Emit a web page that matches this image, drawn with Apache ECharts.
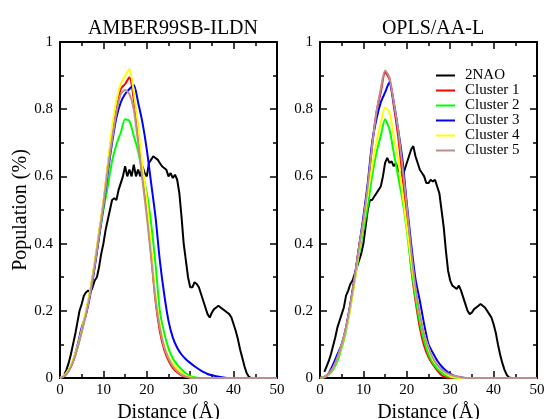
<!DOCTYPE html>
<html>
<head>
<meta charset="utf-8">
<script src="https://cdn.jsdelivr.net/npm/echarts@6/dist/echarts.min.js"></script>
<style>
  html, body { margin: 0; padding: 0; background: #fff; }
  #chart { width: 547px; height: 419px; }
</style>
</head>
<body>
<div id="chart"></div>
<script>
// distance grid (Å) for the cluster curves
const clusterDist = [0, 1, 2, 3, 4, 5, 6, 7, 8, 9, 10, 11, 12, 13, 14, 15, 16, 17, 18, 19,
  20, 21, 22, 23, 24, 25, 26, 27, 28, 29, 30, 31, 32, 33, 34, 35, 36, 37, 38, 39, 40, 45, 50];

// distance grid (Å) for the 2NAO reference curve
const refDist = [1, 1.5, 2, 2.5, 3, 3.5, 4, 4.5, 5, 5.5,
  6, 6.5, 7, 7.5, 8, 8.5, 9, 9.5, 10, 10.5,
  11, 11.5, 12, 12.5, 13, 13.5, 14, 14.5, 15, 15.5,
  16, 16.5, 17, 17.5, 18, 18.5, 19, 19.5, 20, 20.5,
  21, 21.5, 22, 22.5, 23, 23.5, 24, 24.5, 25, 25.5,
  26, 26.5, 27, 27.5, 28, 28.5, 29, 29.5, 30, 30.5,
  31, 31.5, 32, 32.5, 33, 33.5, 34, 34.5, 35, 35.5,
  36, 36.5, 37, 37.5, 38, 38.5, 39, 39.5, 40, 40.5,
  41, 41.5, 42, 42.5, 43, 43.5, 44, 50];

// ---- AMBER99SB-ILDN ----
const amberRef = [0.01, 0.025, 0.045, 0.07, 0.1, 0.13, 0.165, 0.2, 0.22, 0.245,
  0.255, 0.26, 0.255, 0.27, 0.29, 0.3, 0.33, 0.37, 0.4, 0.44,
  0.47, 0.5, 0.53, 0.535, 0.53, 0.56, 0.58, 0.6, 0.63, 0.6,
  0.62, 0.6, 0.635, 0.6, 0.62, 0.6, 0.63, 0.61, 0.6, 0.64,
  0.65, 0.66, 0.655, 0.65, 0.64, 0.63, 0.625, 0.62, 0.6, 0.61,
  0.595, 0.605, 0.59, 0.55, 0.48, 0.4, 0.35, 0.3, 0.27, 0.27,
  0.285, 0.28, 0.27, 0.25, 0.23, 0.21, 0.19, 0.18, 0.195, 0.205,
  0.21, 0.215, 0.21, 0.205, 0.2, 0.195, 0.19, 0.18, 0.16, 0.14,
  0.115, 0.085, 0.06, 0.035, 0.015, 0.004, 0, 0];
const amberC1 = [0, 0.006, 0.022, 0.05, 0.09, 0.14, 0.195, 0.26, 0.34, 0.43,
  0.52, 0.63, 0.73, 0.8, 0.86, 0.875, 0.895, 0.83, 0.73, 0.6,
  0.5, 0.37, 0.23, 0.14, 0.085, 0.052, 0.03, 0.017, 0.008, 0.003,
  0.001, 0, 0, 0, 0, 0, 0, 0, 0, 0, 0, 0, 0];
const amberC2 = [0, 0.006, 0.022, 0.05, 0.09, 0.14, 0.195, 0.26, 0.34, 0.42,
  0.5, 0.57, 0.645, 0.695, 0.73, 0.77, 0.765, 0.72, 0.675, 0.61,
  0.55, 0.46, 0.34, 0.2, 0.135, 0.088, 0.058, 0.04, 0.026, 0.014,
  0.006, 0.002, 0, 0, 0, 0, 0, 0, 0, 0, 0, 0, 0];
const amberC3 = [0, 0.006, 0.022, 0.05, 0.095, 0.15, 0.19, 0.25, 0.33, 0.42,
  0.51, 0.61, 0.7, 0.775, 0.82, 0.845, 0.86, 0.872, 0.82, 0.76,
  0.68, 0.58, 0.48, 0.35, 0.25, 0.17, 0.12, 0.09, 0.07, 0.056,
  0.045, 0.035, 0.026, 0.018, 0.012, 0.008, 0.005, 0.003, 0.001, 0, 0, 0, 0];
const amberC4 = [0, 0.008, 0.025, 0.055, 0.092, 0.143, 0.2, 0.265, 0.345, 0.435,
  0.525, 0.635, 0.745, 0.825, 0.875, 0.9, 0.92, 0.85, 0.75, 0.63,
  0.53, 0.39, 0.25, 0.16, 0.097, 0.064, 0.043, 0.028, 0.016, 0.007,
  0.002, 0, 0, 0, 0, 0, 0, 0, 0, 0, 0, 0, 0];
const amberC5 = [0, 0.006, 0.02, 0.048, 0.088, 0.138, 0.19, 0.255, 0.335, 0.425,
  0.515, 0.62, 0.71, 0.79, 0.845, 0.857, 0.845, 0.8, 0.7, 0.59,
  0.48, 0.36, 0.235, 0.15, 0.092, 0.058, 0.035, 0.02, 0.01, 0.004,
  0.001, 0, 0, 0, 0, 0, 0, 0, 0, 0, 0, 0, 0];

// ---- OPLS/AA-L ----
const oplsRef = [0.018, 0.034, 0.05, 0.07, 0.095, 0.12, 0.15, 0.17, 0.19, 0.21,
  0.245, 0.26, 0.28, 0.29, 0.31, 0.33, 0.35, 0.37, 0.4, 0.45,
  0.5, 0.53, 0.53, 0.54, 0.55, 0.56, 0.57, 0.6, 0.64, 0.655,
  0.64, 0.645, 0.63, 0.64, 0.62, 0.61, 0.6, 0.62, 0.64, 0.66,
  0.68, 0.69, 0.66, 0.64, 0.62, 0.61, 0.6, 0.58, 0.58, 0.59,
  0.585, 0.59, 0.57, 0.55, 0.5, 0.45, 0.38, 0.32, 0.29, 0.275,
  0.27, 0.265, 0.275, 0.26, 0.24, 0.22, 0.2, 0.19, 0.195, 0.205,
  0.21, 0.215, 0.22, 0.215, 0.21, 0.2, 0.19, 0.18, 0.16, 0.135,
  0.1, 0.07, 0.045, 0.025, 0.01, 0.002, 0, 0];
const oplsC1 = [0, 0.003, 0.012, 0.03, 0.06, 0.1, 0.15, 0.22, 0.3, 0.39,
  0.47, 0.57, 0.69, 0.79, 0.85, 0.91, 0.89, 0.81, 0.72, 0.6,
  0.48, 0.33, 0.23, 0.15, 0.095, 0.062, 0.04, 0.023, 0.008, 0.002,
  0, 0, 0, 0, 0, 0, 0, 0, 0, 0, 0, 0, 0];
const oplsC2 = [0, 0.002, 0.01, 0.025, 0.05, 0.09, 0.14, 0.21, 0.29, 0.37,
  0.44, 0.51, 0.6, 0.67, 0.72, 0.77, 0.74, 0.67, 0.6, 0.53,
  0.44, 0.33, 0.24, 0.165, 0.11, 0.07, 0.045, 0.028, 0.016, 0.008,
  0.003, 0.001, 0, 0, 0, 0, 0, 0, 0, 0, 0, 0, 0];
const oplsC3 = [0, 0.003, 0.014, 0.04, 0.07, 0.1, 0.15, 0.22, 0.3, 0.39,
  0.48, 0.58, 0.7, 0.77, 0.82, 0.85, 0.88, 0.82, 0.74, 0.65,
  0.52, 0.4, 0.295, 0.23, 0.16, 0.1, 0.075, 0.052, 0.035, 0.022,
  0.012, 0.006, 0.003, 0.001, 0, 0, 0, 0, 0, 0, 0, 0, 0];
const oplsC4 = [0, 0.003, 0.012, 0.03, 0.058, 0.097, 0.145, 0.21, 0.29, 0.38,
  0.46, 0.55, 0.63, 0.7, 0.76, 0.805, 0.79, 0.72, 0.65, 0.55,
  0.45, 0.35, 0.26, 0.19, 0.13, 0.09, 0.056, 0.038, 0.024, 0.013,
  0.006, 0.002, 0, 0, 0, 0, 0, 0, 0, 0, 0, 0, 0];
const oplsC5 = [0, 0.003, 0.012, 0.03, 0.06, 0.1, 0.15, 0.22, 0.3, 0.39,
  0.47, 0.57, 0.69, 0.79, 0.86, 0.915, 0.895, 0.82, 0.74, 0.63,
  0.51, 0.38, 0.27, 0.19, 0.13, 0.09, 0.06, 0.04, 0.025, 0.016,
  0.01, 0.006, 0.003, 0.001, 0, 0, 0, 0, 0, 0, 0, 0, 0];

const seriesNames = ['2NAO', 'Cluster 1', 'Cluster 2', 'Cluster 3', 'Cluster 4', 'Cluster 5'];
const seriesColors = ['#000000', '#ff0000', '#00ff00', '#0000ff', '#ffff00', '#bc8f8f'];
const panelTitles = ['AMBER99SB-ILDN', 'OPLS/AA-L'];

const FONT = 'Liberation Serif';
const chart = echarts.init(document.getElementById('chart'), null, { renderer: 'canvas' });

const pairs = (xs, ys) => xs.map((x, i) => [x, ys[i]]);

// x axes: bottom (labelled) + top (mirror, ticks only)
function xAx(grid, pos, labelled) {
  return {
    type: 'value', gridIndex: grid, position: pos, min: 0, max: 50, interval: 10,
    name: labelled ? 'Distance (Å)' : '', nameLocation: 'middle', nameGap: 22,
    nameTextStyle: { fontFamily: FONT, fontSize: 20, color: '#000' },
    axisLine: { show: true, onZero: false, lineStyle: { color: '#000', width: 2 } },
    axisTick: { show: true, inside: true, length: 7, lineStyle: { color: '#000', width: 1.5 } },
    minorTick: { show: true, splitNumber: 2, length: 4, lineStyle: { color: '#000', width: 1.5 } },
    axisLabel: { show: labelled, fontFamily: FONT, fontSize: 15, color: '#000', margin: 5 },
    splitLine: { show: false }
  };
}
function yAx(grid, pos, labelled, named) {
  return {
    type: 'value', gridIndex: grid, position: pos, min: 0, max: 1, interval: 0.2,
    name: named ? 'Population (%)' : '', nameLocation: 'middle', nameGap: 28,
    nameTextStyle: { fontFamily: FONT, fontSize: 20, color: '#000' },
    axisLine: { show: true, onZero: false, lineStyle: { color: '#000', width: 2 } },
    axisTick: { show: true, inside: true, length: 7, lineStyle: { color: '#000', width: 1.5 } },
    minorTick: { show: true, splitNumber: 2, length: 4, lineStyle: { color: '#000', width: 1.5 } },
    axisLabel: { show: labelled, fontFamily: FONT, fontSize: 15, color: '#000', margin: 7 },
    splitLine: { show: false }
  };
}

const panels = [
  [amberRef, amberC1, amberC2, amberC3, amberC4, amberC5],
  [oplsRef, oplsC1, oplsC2, oplsC3, oplsC4, oplsC5]
];

const series = [];
panels.forEach((sets, p) => {
  sets.forEach((vals, k) => {
    series.push({
      name: seriesNames[k],
      type: 'line',
      xAxisIndex: p * 2,
      yAxisIndex: p * 2,
      data: pairs(k === 0 ? refDist : clusterDist, vals),
      showSymbol: false,
      smooth: k === 0 ? false : 0.25,
      lineStyle: { color: seriesColors[k], width: 2 },
      itemStyle: { color: seriesColors[k] },
      z: 2 + k
    });
  });
});

const option = {
  backgroundColor: '#ffffff',
  animation: false,
  title: panelTitles.map((t, i) => ({
    text: t, left: i === 0 ? 168 : 428, top: 14, textAlign: 'center',
    textStyle: { fontFamily: FONT, fontSize: 20, fontWeight: 'normal', color: '#000' }
  })),
  legend: {
    data: seriesNames,
    orient: 'vertical', left: 436, top: 68, padding: 0, itemGap: 0,
    itemWidth: 19, itemHeight: 2, icon: 'rect',
    textStyle: { fontFamily: FONT, fontSize: 15, color: '#000', lineHeight: 15, padding: [0, 0, 0, 5] }
  },
  grid: [
    { left: 60, top: 42, width: 217, height: 336, outerBoundsMode: 'none' },
    { left: 320, top: 42, width: 217, height: 336, outerBoundsMode: 'none' }
  ],
  xAxis: [xAx(0, 'bottom', true), xAx(0, 'top', false), xAx(1, 'bottom', true), xAx(1, 'top', false)],
  yAxis: [yAx(0, 'left', true, true), yAx(0, 'right', false, false), yAx(1, 'left', true, false), yAx(1, 'right', false, false)],
  series: series
};

chart.setOption(option);
</script>
</body>
</html>
